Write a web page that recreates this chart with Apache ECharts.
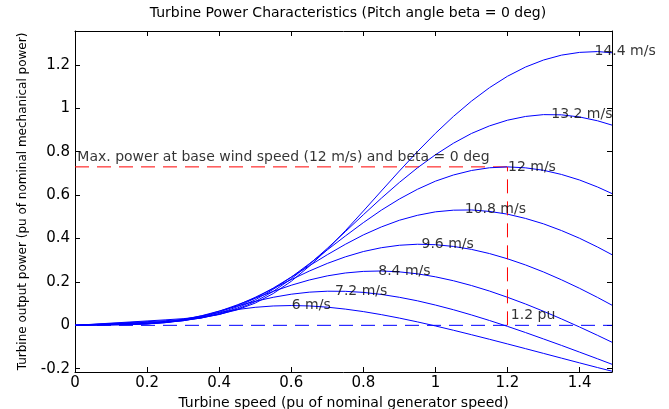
<!DOCTYPE html>
<html><head><meta charset="utf-8">
<script src="https://cdn.jsdelivr.net/npm/echarts@6/dist/echarts.min.js"></script>
<style>html,body{margin:0;padding:0;background:#fff}#c{width:669px;height:409px}</style>
</head><body><div id="c"></div>
<script>
// Turbine speed (pu of nominal generator speed)
const omega = [0, 0.05, 0.1, 0.15, 0.2, 0.25, 0.3, 0.35, 0.4, 0.45, 0.5, 0.55, 0.6, 0.65, 0.7, 0.75, 0.8, 0.85, 0.9, 0.95, 1.0, 1.05, 1.1, 1.15, 1.2, 1.25, 1.3, 1.35, 1.4, 1.45, 1.49];
const windLabels = ['6 m/s', '7.2 m/s', '8.4 m/s', '9.6 m/s', '10.8 m/s', '12 m/s', '13.2 m/s', '14.4 m/s'];
// Turbine output power (pu) for each wind speed
const power6   = [0, 0.0009, 0.0017, 0.0029, 0.0064, 0.0147, 0.0278, 0.0434, 0.0591, 0.0727, 0.0830, 0.0892, 0.0912, 0.0893, 0.0837, 0.0748, 0.0633, 0.0493, 0.0334, 0.0159, -0.0028, -0.0226, -0.0432, -0.0642, -0.0857, -0.1074, -0.1293, -0.1512, -0.1730, -0.1946, -0.2114];
const power72  = [0, 0.0013, 0.0025, 0.0038, 0.0064, 0.0128, 0.0254, 0.0437, 0.0658, 0.0889, 0.1106, 0.1291, 0.1434, 0.1528, 0.1572, 0.1567, 0.1518, 0.1424, 0.1292, 0.1130, 0.0935, 0.0719, 0.0479, 0.0223, -0.0048, -0.0332, -0.0628, -0.0926, -0.1234, -0.1543, -0.1794];
const power84  = [0, 0.0017, 0.0034, 0.0052, 0.0074, 0.0121, 0.0226, 0.0403, 0.0648, 0.0942, 0.1255, 0.1563, 0.1847, 0.2088, 0.2278, 0.2411, 0.2485, 0.2504, 0.2463, 0.2373, 0.2235, 0.2054, 0.1834, 0.1580, 0.1292, 0.0983, 0.0648, 0.0294, -0.0077, -0.0462, -0.0779];
const power96  = [0, 0.0022, 0.0045, 0.0067, 0.0091, 0.0130, 0.0211, 0.0363, 0.0601, 0.0918, 0.1291, 0.1697, 0.2106, 0.2499, 0.2852, 0.3154, 0.3400, 0.3576, 0.3689, 0.3736, 0.3715, 0.3635, 0.3499, 0.3307, 0.3066, 0.2782, 0.2458, 0.2096, 0.1705, 0.1284, 0.0928];
const power108 = [0, 0.0028, 0.0057, 0.0085, 0.0114, 0.0152, 0.0215, 0.0338, 0.0549, 0.0856, 0.1251, 0.1716, 0.2221, 0.2742, 0.3253, 0.3731, 0.4165, 0.4533, 0.4841, 0.5068, 0.5228, 0.5305, 0.5316, 0.5248, 0.5122, 0.4925, 0.4675, 0.4365, 0.4011, 0.3606, 0.3254];
const power12  = [0, 0.0035, 0.0070, 0.0105, 0.0140, 0.0178, 0.0234, 0.0335, 0.0513, 0.0793, 0.1174, 0.1659, 0.2220, 0.2836, 0.3475, 0.4114, 0.4730, 0.5306, 0.5819, 0.6266, 0.6641, 0.6926, 0.7133, 0.7259, 0.7300, 0.7256, 0.7143, 0.6950, 0.6695, 0.6372, 0.6070];
const power132 = [0, 0.0042, 0.0085, 0.0127, 0.0169, 0.0213, 0.0267, 0.0350, 0.0498, 0.0741, 0.1091, 0.1563, 0.2142, 0.2810, 0.3545, 0.4314, 0.5093, 0.5856, 0.6583, 0.7253, 0.7858, 0.8390, 0.8839, 0.9188, 0.9451, 0.9623, 0.9708, 0.9698, 0.9599, 0.9423, 0.9224];
const power144 = [0, 0.0050, 0.0101, 0.0151, 0.0202, 0.0252, 0.0307, 0.0386, 0.0509, 0.0712, 0.1025, 0.1464, 0.2029, 0.2723, 0.3498, 0.4357, 0.5264, 0.6189, 0.7109, 0.8000, 0.8843, 0.9624, 1.0328, 1.0948, 1.1475, 1.1900, 1.2223, 1.2449, 1.2575, 1.2612, 1.2557];
// label anchor (maximum of each curve)
const peakSpeed = [0.6, 0.72, 0.84, 0.96, 1.08, 1.2, 1.32, 1.44];
const peakPower = [0.0912, 0.1577, 0.2504, 0.3738, 0.532, 0.73, 0.9716, 1.261];
// reference lines
const maxPowerLine = [[0, 0.73], [1.2, 0.73]];
const baseSpeedLine = [[1.2, 0], [1.2, 0.73]];
const zeroLine = [[0, 0], [1.49, 0]];
const noteTexts = ['Max. power at base wind speed (12 m/s) and beta = 0 deg', '1.2 pu'];
const noteX = [0.005, 1.208];
const noteY = [0.776, 0.047];
const xTicks = [0, 0.2, 0.4, 0.6, 0.8, 1, 1.2, 1.4];
const yTicks = [-0.2, 0, 0.2, 0.4, 0.6, 0.8, 1, 1.2];

const FONT = 'DejaVu Sans';
const powers = [power6, power72, power84, power96, power108, power12, power132, power144];
const chart = echarts.init(document.getElementById('c'), null, {renderer: 'canvas'});

const curveSeries = powers.map((p, i) => ({
  type: 'line', name: windLabels[i], data: omega.map((w, k) => [w, p[k]]),
  showSymbol: false, symbol: 'none', smooth: false,
  lineStyle: {color: '#0000ff', width: 1}, itemStyle: {color: '#0000ff'}, silent: true, z: 3
}));
const dashLine = (data, c, z) => ({
  type: 'line', data: data, showSymbol: false, symbol: 'none', silent: true, z: z,
  itemStyle: {color: c}, lineStyle: {color: c, width: 1, type: [14, 8], opacity: 1}
});

const option = {
  animation: false,
  backgroundColor: '#ffffff',
  title: {
    text: 'Turbine Power Characteristics (Pitch angle beta = 0 deg)',
    left: 343, top: 1, textAlign: 'center',
    textStyle: {fontFamily: FONT, fontSize: 14, fontWeight: 'normal', color: '#000'}
  },
  grid: {left: 75, right: 57, top: 31, bottom: 37, containLabel: false, outerBoundsMode: 'none'},
  xAxis: [{
    type: 'value', min: 0, max: 1.49, position: 'bottom',
    name: 'Turbine speed (pu of nominal generator speed)', nameLocation: 'middle', nameGap: 17,
    nameTextStyle: {fontFamily: FONT, fontSize: 14, color: '#000'},
    axisLine: {show: true, onZero: false, lineStyle: {color: '#000', width: 1}},
    axisTick: {show: true, inside: true, length: 5, customValues: xTicks, lineStyle: {color: '#000'}},
    axisLabel: {show: true, customValues: xTicks, margin: 4, fontFamily: FONT, fontSize: 15, color: '#000'},
    splitLine: {show: false}
  }, {
    type: 'value', min: 0, max: 1.49, position: 'top',
    axisLine: {show: true, onZero: false, lineStyle: {color: '#000', width: 1}},
    axisTick: {show: true, inside: true, length: 5, customValues: xTicks, lineStyle: {color: '#000'}},
    axisLabel: {show: false}, splitLine: {show: false}
  }],
  yAxis: [{
    type: 'value', min: -0.215, max: 1.356, position: 'left',
    name: 'Turbine output power (pu of nominal mechanical power)', nameLocation: 'middle', nameGap: 46,
    nameTextStyle: {fontFamily: FONT, fontSize: 12, color: '#000'},
    axisLine: {show: true, onZero: false, lineStyle: {color: '#000', width: 1}},
    axisTick: {show: true, inside: true, length: 5, customValues: yTicks, lineStyle: {color: '#000'}},
    axisLabel: {show: true, customValues: yTicks, margin: 5, fontFamily: FONT, fontSize: 15, color: '#000'},
    splitLine: {show: false}
  }, {
    type: 'value', min: -0.215, max: 1.356, position: 'right',
    axisLine: {show: true, onZero: false, lineStyle: {color: '#000', width: 1}},
    axisTick: {show: true, inside: true, length: 5, customValues: yTicks, lineStyle: {color: '#000'}},
    axisLabel: {show: false}, splitLine: {show: false}
  }],
  series: [
    dashLine(zeroLine, '#0000ff', 2),
    dashLine(maxPowerLine, '#ff0000', 2),
    dashLine(baseSpeedLine, '#ff0000', 4),
    ...curveSeries,
    {
      type: 'scatter', silent: true, z: 5, symbolSize: 1,
      itemStyle: {color: 'rgba(0,0,0,0)'},
      data: peakSpeed.map((x, i) => [x, peakPower[i], windLabels[i]]),
      label: {show: true, position: 'right', distance: 0, formatter: p => p.data[2],
        fontFamily: FONT, fontSize: 14, color: '#000', align: 'left', verticalAlign: 'middle'}
    },
    {
      type: 'scatter', silent: true, z: 5, symbolSize: 1,
      itemStyle: {color: 'rgba(0,0,0,0)'},
      data: noteX.map((x, i) => [x, noteY[i], noteTexts[i]]),
      label: {show: true, position: 'right', distance: 0, formatter: p => p.data[2],
        fontFamily: FONT, fontSize: 14, color: '#000', align: 'left', verticalAlign: 'middle'}
    }
  ]
};
chart.setOption(option);
</script></body></html>
